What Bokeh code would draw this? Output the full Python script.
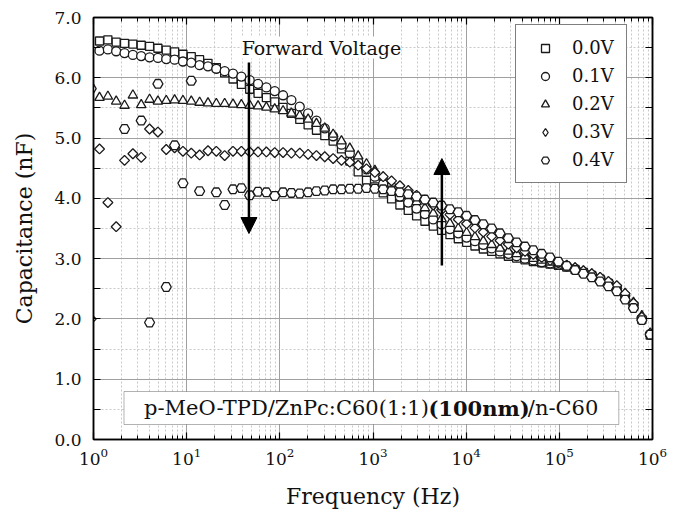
import math
from bokeh.plotting import figure
from bokeh.models import (Range1d, LogAxis, LinearAxis, FixedTicker, PrintfTickFormatter,
                          Legend, LegendItem, Label, BoxAnnotation, Arrow, NormalHead)
from bokeh.embed import file_html
from bokeh.resources import INLINE

nan = float("nan")

# Frequency sweep (Hz)
freq_hz = [0.944, 1.160, 1.427, 1.752, 2.154, 2.647, 3.253, 3.998, 4.914, 6.039,
           7.423, 9.122, 11.21, 13.77, 16.94, 20.81, 25.58, 31.44, 38.63, 47.48,
           58.35, 71.71, 88.13, 108.3, 133.1, 163.6, 201.1, 247.2, 303.7, 373.3,
           458.7, 563.8, 692.9, 851.6, 1047, 1286, 1581, 1943, 2389, 2935,
           3607, 4433, 5448, 6696, 8229, 10112, 12428, 15275, 18772, 23070,
           28352, 34844, 42824, 52628, 64679, 79489, 97713, 120079, 147574, 181364,
           222892, 273946, 336666, 413752, 508494, 624994, 768120, 944100]

# Capacitance (nF) for each forward bias
cap_0_0V = [nan, 6.61, 6.63, 6.59, 6.57, 6.56, 6.54, 6.52, 6.49, 6.46,
            6.43, 6.39, 6.35, 6.30, 6.24, 6.17, 6.08, 5.98, 5.89, 5.81,
            5.74, 5.67, 5.60, 5.51, 5.41, 5.31, 5.22, 5.13, 5.04, 4.95,
            4.82, 4.62, 4.44, 4.30, 4.19, 4.09, 3.99, 3.89, 3.80, 3.71,
            3.62, 3.54, 3.47, 3.40, 3.33, 3.27, 3.21, 3.16, 3.12, 3.08,
            3.04, 3.01, 2.98, 2.95, 2.93, 2.91, 2.89, 2.86, 2.82, 2.77,
            2.72, 2.66, 2.59, 2.50, 2.37, 2.21, 1.99, 1.73]
cap_0_1V = [nan, 6.45, 6.47, 6.44, 6.41, 6.38, 6.36, 6.34, 6.33, 6.31,
            6.30, 6.27, 6.25, 6.21, 6.19, 6.15, 6.11, 6.07, 6.02, 5.96,
            5.90, 5.84, 5.78, 5.71, 5.63, 5.52, 5.41, 5.29, 5.16, 5.03,
            4.89, 4.75, 4.61, 4.48, 4.36, 4.24, 4.13, 4.03, 3.93, 3.83,
            3.74, 3.65, 3.57, 3.49, 3.42, 3.35, 3.29, 3.23, 3.17, 3.12,
            3.08, 3.04, 3.00, 2.97, 2.94, 2.92, 2.90, 2.87, 2.83, 2.78,
            2.73, 2.67, 2.60, 2.52, 2.39, 2.23, 2.01, 1.74]
cap_0_2V = [nan, 5.67, 5.69, 5.61, 5.54, 5.71, 5.55, 5.64, 5.61, 5.62,
            5.63, 5.62, 5.61, 5.59, 5.58, 5.57, 5.57, 5.56, 5.55, 5.54,
            5.53, 5.51, 5.48, 5.45, 5.41, 5.37, 5.31, 5.24, 5.16, 5.06,
            4.95, 4.83, 4.70, 4.57, 4.46, 4.35, 4.25, 4.14, 4.04, 3.94,
            3.84, 3.75, 3.66, 3.58, 3.50, 3.43, 3.36, 3.29, 3.23, 3.17,
            3.12, 3.08, 3.04, 3.00, 2.97, 2.94, 2.91, 2.88, 2.84, 2.79,
            2.74, 2.68, 2.61, 2.53, 2.42, 2.27, 2.05, 1.76]
cap_0_3V = [2.00, 4.82, 3.93, 3.53, 4.63, 4.74, 4.68, 5.15, 5.10, 4.81,
            4.84, 4.78, 4.75, 4.72, 4.79, 4.78, 4.71, 4.78, 4.78, 4.77,
            4.77, 4.77, 4.76, 4.76, 4.75, 4.75, 4.73, 4.71, 4.69, 4.66,
            4.63, 4.60, 4.55, 4.49, 4.43, 4.36, 4.29, 4.21, 4.13, 4.05,
            3.97, 3.89, 3.81, 3.73, 3.65, 3.58, 3.51, 3.44, 3.37, 3.30,
            3.24, 3.18, 3.12, 3.07, 3.02, 2.97, 2.93, 2.89, 2.85, 2.80,
            2.75, 2.69, 2.62, 2.55, 2.42, 2.26, 2.03, 1.76]
cap_0_4V = [5.82, nan, nan, nan, 5.15, nan, 5.29, 1.94, 5.90, 2.53,
            4.88, 4.25, 5.95, 4.12, nan, 4.10, 3.89, 4.15, 4.17, 4.05,
            4.11, 4.10, 4.04, 4.10, 4.09, 4.08, 4.10, 4.12, 4.13, 4.15,
            4.15, 4.16, 4.16, 4.17, 4.16, 4.15, 4.12, 4.10, 4.07, 4.03,
            3.98, 3.93, 3.88, 3.82, 3.77, 3.71, 3.64, 3.57, 3.50, 3.42,
            3.34, 3.27, 3.20, 3.14, 3.08, 3.02, 2.95, 2.88, 2.81, 2.75,
            2.69, 2.62, 2.54, 2.46, 2.32, 2.18, 1.98, 1.74]

series_labels = ["0.0V", "0.1V", "0.2V", "0.3V", "0.4V"]
x_ticks = [1, 10, 100, 1000, 10000, 100000, 1000000]
y_ticks = [0, 1, 2, 3, 4, 5, 6, 7]

FONT = "DejaVu Serif"
INK = "#111111"

# frame geometry (pixels) used only to place annotations
FL, FB, DEC, UNIT = 93.5, 439.0, 93.2, 60.29
def dx(sx):
    return 10 ** ((sx - FL) / DEC)
def dy(sy):
    return (FB - sy) / UNIT

p = figure(width=677, height=513, x_axis_type="log",
           x_range=Range1d(1, 1e6), y_range=Range1d(0, 7),
           output_backend="svg", toolbar_location=None,
           min_border_left=93, min_border_right=25,
           min_border_top=17, min_border_bottom=74)
p.background_fill_color = "white"
p.border_fill_color = "white"
p.outline_line_color = "black"
p.outline_line_width = 1.5

minor_x = [m * 10 ** e for e in range(6) for m in range(2, 10)]
xt = FixedTicker(ticks=x_ticks, minor_ticks=minor_x)
yt = FixedTicker(ticks=y_ticks, minor_ticks=[k + 0.5 for k in range(7)])

def style_axis(ax, xdir, show_labels):
    ax.axis_line_color = "black"
    ax.axis_line_width = 1.5
    ax.major_tick_line_color = "black"
    ax.major_tick_line_width = 1.2
    ax.minor_tick_line_color = "black"
    ax.minor_tick_line_width = 1.0
    ax.major_tick_in = 7
    ax.major_tick_out = 0
    ax.minor_tick_in = 4 if xdir else 7
    ax.minor_tick_out = 0
    ax.major_label_text_font = FONT
    ax.major_label_text_color = INK
    ax.axis_label_text_font = FONT
    ax.axis_label_text_font_style = "normal"
    ax.axis_label_text_color = INK
    ax.axis_label_text_font_size = "22px"
    if show_labels:
        ax.major_label_text_font_size = "17px"
    else:
        ax.major_label_text_font_size = "2px"
        ax.major_label_text_alpha = 0
        ax.major_label_standoff = 0

xa = p.xaxis[0]
xa.ticker = xt
xa.axis_label = "Frequency (Hz)"
style_axis(xa, True, True)
xa.major_label_standoff = 8
xa.axis_label_standoff = 16

ya = p.yaxis[0]
ya.ticker = yt
ya.formatter = PrintfTickFormatter(format="%.1f")
ya.axis_label = "Capacitance (nF)"
style_axis(ya, False, True)
ya.major_label_standoff = 12
ya.axis_label_standoff = 14

top = LogAxis(ticker=xt)
style_axis(top, True, False)
p.add_layout(top, "above")
right = LinearAxis(ticker=yt)
style_axis(right, False, False)
p.add_layout(right, "right")

p.xgrid.ticker = xt
p.ygrid.ticker = yt
for g in (p.xgrid[0], p.ygrid[0]):
    g.grid_line_color = "#a0a0a0"
    g.grid_line_width = 1
    g.minor_grid_line_color = "#c8c8c8"
    g.minor_grid_line_dash = "2 2"
    g.minor_grid_line_width = 1

mk = dict(fill_color="white", line_color="#1a1a1a", line_width=1.3)
r0 = p.scatter(freq_hz, cap_0_0V, marker="square", size=8, **mk)
r1 = p.scatter(freq_hz, cap_0_1V, marker="circle", size=9, **mk)
r2 = p.scatter(freq_hz, cap_0_2V, marker="triangle", size=9.5, **mk)
r3 = p.scatter(freq_hz, cap_0_3V, marker="square", angle=math.pi / 4, size=7, **mk)
r4 = p.scatter(freq_hz, cap_0_4V, marker="hex", size=10, **mk)

# legend-only glyph for the diamond (legend swatches are drawn unrotated)
lg3 = p.scatter([nan], [nan], marker="diamond", size=9, **mk)

legend = Legend(items=[LegendItem(label=l, renderers=[r]) for l, r in
                       zip(series_labels, [r0, r1, r2, lg3, r4])],
                location=(422, 256))
legend.label_text_font = FONT
legend.label_text_font_size = "18px"
legend.label_text_color = INK
legend.glyph_width = 34
legend.glyph_height = 20
legend.label_height = 20
legend.spacing = 7
legend.padding = 12
legend.margin = 0
legend.label_standoff = 10
legend.border_line_color = "black"
legend.border_line_width = 1
legend.background_fill_color = "white"
legend.background_fill_alpha = 1
p.add_layout(legend)

# Forward voltage annotation
p.add_layout(Label(x=dx(321.5), y=dy(47), text="Forward Voltage", text_align="center",
                   text_baseline="middle", text_font=FONT, text_font_size="19px",
                   text_color=INK, background_fill_color="white", background_fill_alpha=1))
p.add_layout(Arrow(end=NormalHead(size=16, fill_color="black", line_color="black"),
                   x_start=dx(249), y_start=dy(62), x_end=dx(249), y_end=dy(233),
                   line_width=2.5, line_color="black"))
p.add_layout(Arrow(end=NormalHead(size=16, fill_color="black", line_color="black"),
                   x_start=dx(442), y_start=dy(265), x_end=dx(442), y_end=dy(158),
                   line_width=2.5, line_color="black"))

# Device structure box
p.add_layout(BoxAnnotation(left=dx(124), right=dx(619), bottom=dy(424), top=dy(391),
                           fill_color="white", fill_alpha=1, line_color="black", line_width=1))
ty = dy(407.5)
p.add_layout(Label(x=dx(144), y=ty, text="p-MeO-TPD/ZnPc:C60(1:1)", text_align="left",
                   text_baseline="middle", text_font=FONT, text_font_size="21px", text_color=INK))
p.add_layout(Label(x=dx(428.5), y=ty, text="(100nm)", text_align="left",
                   text_baseline="middle", text_font=FONT, text_font_size="21px",
                   text_font_style="bold", text_color=INK))
p.add_layout(Label(x=dx(528), y=ty, text="/n-C60", text_align="left",
                   text_baseline="middle", text_font=FONT, text_font_size="21px", text_color=INK))

open("out.html", "w").write(file_html(p, INLINE))
